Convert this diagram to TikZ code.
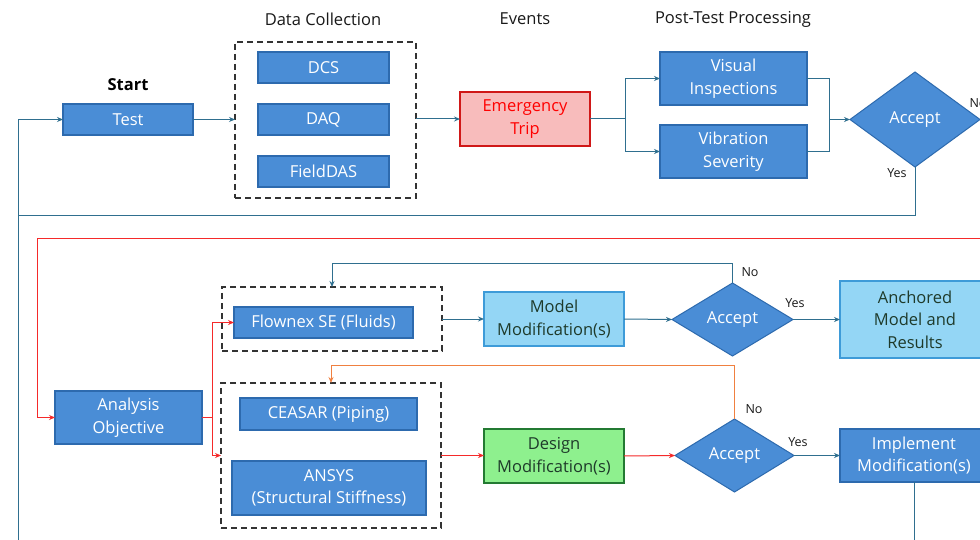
\documentclass[tikz,border=0pt]{standalone}
\usepackage{fontspec}
\setmainfont{Open Sans}
\usetikzlibrary{shapes.geometric,arrows.meta}
\definecolor{teal1}{HTML}{2F6F8F}
\definecolor{bluef}{HTML}{4A8DD6}
\definecolor{blued}{HTML}{2D6AAE}
\definecolor{lbf}{HTML}{94D6F5}
\definecolor{lbd}{HTML}{3E9BD8}
\definecolor{grf}{HTML}{8EF08E}
\definecolor{grd}{HTML}{237A32}
\definecolor{pkf}{HTML}{F8BCBC}
\definecolor{pkd}{HTML}{D01818}
\definecolor{redl}{HTML}{F52A2A}
\definecolor{orl}{HTML}{F08040}
\definecolor{dtext}{HTML}{1E3A2A}
\begin{document}
\begin{tikzpicture}[x=1pt,y=-1pt,
  font=\fontsize{16.5}{22.5}\selectfont,
  blk/.style={draw=blued,fill=bluef,line width=1.3pt,text=white,align=center,inner sep=0pt,outer sep=0pt},
  lblk/.style={draw=lbd,fill=lbf,line width=1.3pt,text=dtext,align=center,inner sep=0pt,outer sep=0pt},
  gblk/.style={draw=grd,fill=grf,line width=1.3pt,text=dtext,align=center,inner sep=0pt,outer sep=0pt},
  pblk/.style={draw=pkd,fill=pkf,line width=1.3pt,text=red,align=center,inner sep=0pt,outer sep=0pt},
  dia/.style={diamond,draw=blued,fill=bluef,line width=1pt,text=white,inner sep=0pt,outer sep=0pt},
  dbox/.style={draw=black!80,line width=1.2pt,dash pattern=on 6pt off 4pt,inner sep=0pt,outer sep=0pt},
  hdr/.style={text=black!90,font=\fontsize{16.5}{20}\selectfont},
  yn/.style={text=black!90,font=\fontsize{12.5}{15}\selectfont},
  conn/.style={draw=teal1,line width=1pt,-{Stealth[length=6pt,width=5pt]}},
  cline/.style={draw=teal1,line width=1pt},
  rconn/.style={draw=redl,line width=1pt,-{Stealth[length=6pt,width=5pt]}},
  rline/.style={draw=redl,line width=1pt},
  oconn/.style={draw=orl,line width=1pt,-{Stealth[length=6pt,width=5pt]}}
]
\useasboundingbox (0,0) rectangle (980,540);
\clip (0,0) rectangle (980,540);
\fill[white] (0,0) rectangle (980,540);

% headers
\node[font=\bfseries\fontsize{16.5}{20}\selectfont] (start) at (128,85) {Start};
\node[hdr] (hdc) at (323,19) {Data Collection};
\node[hdr] (hev) at (525,19) {Events};
\node[hdr] (hpt) at (733,19) {Post-Test Processing};

% top row
\node[blk,minimum width=130pt,minimum height=31pt] (test) at (128,119.5) {Test};
\node[dbox,minimum width=181pt,minimum height=156pt] (dc) at (325.5,120) {};
\node[blk,minimum width=131pt,minimum height=31pt] (dcs) at (323.5,67.5) {DCS};
\node[blk,minimum width=131pt,minimum height=31pt] (daq) at (323.5,119.5) {DAQ};
\node[blk,minimum width=131pt,minimum height=31pt] (fdas) at (323.5,171.5) {FieldDAS};
\node[pblk,minimum width=130pt,minimum height=54pt] (trip) at (525,119) {Emergency\\Trip};
\node[blk,minimum width=147pt,minimum height=53pt] (vis) at (733.5,78.5) {Visual\\Inspections};
\node[blk,minimum width=147pt,minimum height=53pt] (vib) at (733.5,151.5) {Vibration\\Severity};
\node[dia,minimum width=130pt,minimum height=95pt] (acc1) at (915,119.5) {Accept};
\node[yn] (no1) at (978,103) {No};
\node[yn] (yes1) at (897,173) {Yes};

\draw[conn] (test.east) -- (test.east -| dc.west);
\draw[conn] (dc.east |- trip.west) -- (trip.west);
\coordinate (s1) at (625,119);
\draw[cline] (trip.east) -- (s1);
\draw[conn] (s1) |- (vis.west);
\draw[conn] (s1) |- (vib.west);
\coordinate (m1) at (829,119.5);
\draw[cline] (vis.east) -| (m1);
\draw[cline] (vib.east) -| (m1);
\draw[conn] (m1) -- (acc1.west);
\coordinate (yb) at (18,216);
\draw[cline] (acc1.south) |- (yb);
\coordinate (bl) at (18,545);
\draw[conn] (bl) |- (test.west);

% red feed
\coordinate (rr) at (985,239);
\coordinate (rl) at (37,239);
\node[blk,minimum width=147pt,minimum height=53pt] (ana) at (128.5,417.5) {Analysis\\Objective};
\draw[rline] (rr) -- (rl);
\draw[rconn] (rl) |- (ana.west);

% model branch
\node[dbox,minimum width=220pt,minimum height=64pt] (fbox) at (332,319) {};
\node[blk,minimum width=179pt,minimum height=31pt] (flow) at (323.5,322.5) {Flownex SE (Fluids)};
\node[lblk,minimum width=140pt,minimum height=54pt] (mm) at (554,319) {Model\\Modification(s)};
\node[dia,minimum width=121pt,minimum height=73pt] (acc2) at (732.5,319.5) {Accept};
\node[lblk,minimum width=150pt,minimum height=77pt] (anch) at (915,319.5) {Anchored\\Model and\\Results};
\node[yn] (yes2) at (795,303) {Yes};
\node[yn] (no2) at (750,272) {No};

% design branch
\node[dbox,minimum width=220pt,minimum height=145pt] (abox) at (331,455.5) {};
\node[blk,minimum width=177pt,minimum height=32pt] (ceasar) at (328.5,414) {CEASAR (Piping)};
\node[blk,minimum width=194pt,minimum height=54pt] (ansys) at (329,488) {ANSYS\\(Structural Stiffness)};
\node[gblk,minimum width=140pt,minimum height=54pt] (dm) at (554,456) {Design\\Modification(s)};
\node[dia,minimum width=119pt,minimum height=73pt] (acc3) at (734.5,455.5) {Accept};
\node[blk,minimum width=148pt,minimum height=53pt] (impl) at (914,455.5) {Implement\\Modification(s)};
\node[yn] (yes3) at (798,442) {Yes};
\node[yn] (no3) at (754,409) {No};

\coordinate (s2) at (212,417.5);
\draw[rline] (ana.east) -- (s2);
\draw[rconn] (s2) |- (flow.west);
\draw[rconn] (s2) |- (abox.west);
\draw[conn] (fbox.east) -- (mm.west);
\draw[conn] (mm.east) -- (acc2.west);
\draw[conn] (acc2.east) -- (anch.west);
\draw[conn] (acc2.north) -- ++(0,-20) -| (fbox.north);
\draw[rconn] (abox.east) -- (abox.east -| dm.west);
\draw[rconn] (dm.east) -- (acc3.west);
\draw[conn] (acc3.east) -- (impl.west);
\draw[oconn] (acc3.north) -- ++(0,-53.5) -| (abox.north);
\draw[cline] (impl.south) -- ++(0,70);
\end{tikzpicture}
\end{document}
